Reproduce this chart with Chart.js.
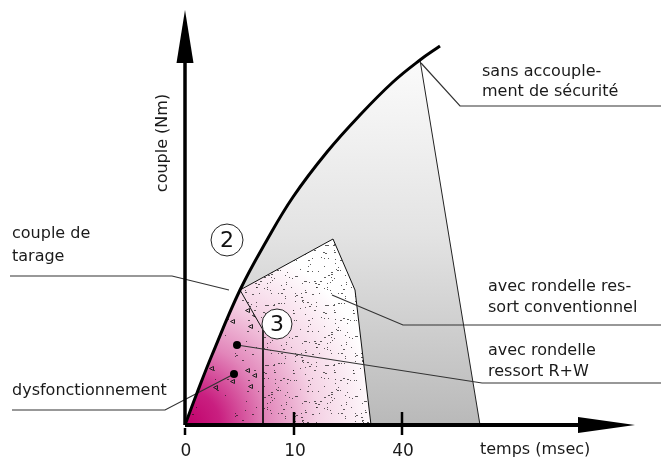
<!DOCTYPE html>
<html>
<head>
<meta charset="utf-8">
<script src="https://cdn.jsdelivr.net/npm/chart.js@4"></script>
<style>
  body { margin: 0; background: #fff; }
  #wrap { width: 661px; height: 461px; }
</style>
</head>
<body>
<div id="wrap"><canvas id="diagram" width="661" height="461"></canvas></div>
<script>
// couple (Nm) vs temps, schematic units (origin at 0,0)
const curveX = [0, 1.2, 2.7, 5.5, 8.2, 10.8, 14.2, 17.5, 20.8, 23.5, 25.5];
const curveY = [0, 3.2, 7.0, 13.5, 18.5, 22.8, 27.3, 31.0, 34.3, 36.5, 37.9];
const tarageIdx = 3;     // "couple de tarage" point on the curve
const sansIdx = 9;       // where "sans accouplement" drops off

// "sans accouplement de sécurité" drop line end on the time axis
const sansEnd = [29.5, 0];
// conventional spring washer zone (after the tarage point)
const convX = [14.8, 17.0, 18.6, 7.8];
const convY = [18.6, 13.5, 0, 0];
// R+W zone divider
const rwX = [7.8, 7.8];
const rwY = [9.5, 0];
// marked points (R+W, dysfonctionnement)
const markX = [5.2, 4.9];
const markY = [8.0, 5.1];

const tickPos = [0, 10.9, 21.7];
const tickLabels = ['0', '10', '40'];

const pt = (x, y) => ({x, y});
const curve = curveX.map((x, i) => pt(x, curveY[i]));
const tarage = curve[tarageIdx];
const sansPt = curve[sansIdx];

// textures
function stipple(count, tris) {
  const c = document.createElement('canvas');
  c.width = c.height = 60;
  const g = c.getContext('2d');
  let s = 12345;
  const next = () => (s = (s * 16807) % 2147483647) / 2147483647;
  g.fillStyle = 'rgba(25,25,25,0.7)';
  for (let i = 0; i < count; i++) {
    const px = Math.floor(next() * 60), py = Math.floor(next() * 60);
    g.fillRect(px, py, next() < 0.25 ? 2 : 1, 1);
  }
  g.strokeStyle = '#222';
  g.lineWidth = 1;
  for (let i = 0; i < tris; i++) {
    const px = Math.floor(next() * 54) + 0.5, py = Math.floor(next() * 54) + 3.5;
    g.beginPath();
    g.moveTo(px + 4, py - 2); g.lineTo(px, py); g.lineTo(px + 4, py + 2); g.closePath();
    g.stroke();
  }
  return g.createPattern(c, 'repeat');
}
const dotPattern = stipple(105, 0);
const triPattern = stipple(20, 6);

function grayFill(ctx) {
  const ch = ctx.chart;
  if (!ch.chartArea) return '#ddd';
  const y = ch.scales.y;
  const g = ch.ctx.createLinearGradient(0, y.getPixelForValue(38), 0, y.getPixelForValue(0));
  g.addColorStop(0, '#fdfdfd');
  g.addColorStop(0.5, '#e3e3e3');
  g.addColorStop(1, '#b9b9b9');
  return g;
}
function pinkFill(ctx) {
  const ch = ctx.chart;
  if (!ch.chartArea) return '#e8a0c8';
  const ox = ch.scales.x.getPixelForValue(0), oy = ch.scales.y.getPixelForValue(0);
  const g = ch.ctx.createRadialGradient(ox, oy, 0, ox, oy, 195);
  g.addColorStop(0, '#c0006a');
  g.addColorStop(0.18, '#c91f80');
  g.addColorStop(0.42, '#e286ba');
  g.addColorStop(0.68, '#f5d3e5');
  g.addColorStop(1, '#ffffff');
  return g;
}

function shape(data, bg, order) {
  return { data, showLine: true, pointRadius: 0, borderWidth: 0, borderColor: 'transparent',
           fill: 'shape', backgroundColor: bg, order, clip: false, tension: 0 };
}
function line(data, color, width, order) {
  return { data, showLine: true, pointRadius: 0, borderWidth: width, borderColor: color,
           fill: false, order, clip: false, tension: 0 };
}

const grayZone = curve.slice(0, sansIdx + 1).concat([pt(...sansEnd), pt(0, 0)]);
const pinkZone = curve.slice(0, tarageIdx + 1).concat(rwX.map((x, i) => pt(x, rwY[i])), [pt(0, 0)]);
const convZone = [tarage].concat(convX.map((x, i) => pt(x, convY[i])), rwX.map((x, i) => pt(x, rwY[i])).reverse(), [tarage]);

const datasets = [
  shape(grayZone, grayFill, 20),
  shape(pinkZone, pinkFill, 19),
  shape(convZone, pinkFill, 19),
  shape(convZone, dotPattern, 18),
  shape(pinkZone, triPattern, 18),
  line([tarage].concat(convX.map((x, i) => pt(x, convY[i]))), '#111', 1, 10),
  line([tarage].concat(rwX.map((x, i) => pt(x, rwY[i]))), '#111', 1, 10),
  line([sansPt, pt(...sansEnd)], '#222', 1, 10),
  // leader lines
  line([pt(23.6, 36.2), pt(27.5, 31.9), pt(47.6, 31.9)], '#333', 1.2, 8),
  line([pt(14.7, 13.0), pt(21.8, 10.0), pt(47.6, 10.0)], '#333', 1.2, 8),
  line([pt(markX[0], markY[0]), pt(29.7, 4.2), pt(47.6, 4.2)], '#333', 1.2, 8),
  line([pt(-17.5, 14.9), pt(-1.3, 14.9), pt(4.4, 13.5)], '#333', 1.2, 8),
  line([pt(-17.3, 1.5), pt(-2.0, 1.5), pt(markX[1], markY[1])], '#333', 1.2, 8),
  // torque curve
  { data: curve, showLine: true, pointRadius: 0, borderWidth: 3, borderColor: '#000', fill: false,
    tension: 0.4, order: 3, clip: false },
  // axes with arrowheads
  line([pt(0, 0), pt(0, 37)], '#000', 3.5, 2),
  line([pt(0, 0), pt(40, 0)], '#000', 4, 2),
  shape([pt(0, 41.5), pt(-0.85, 36.2), pt(0.85, 36.2), pt(0, 41.5)], '#000', 2),
  shape([pt(45, 0), pt(39.3, 0.8), pt(39.3, -0.8), pt(45, 0)], '#000', 2),
  // ticks
  line([pt(tickPos[0], -0.3), pt(tickPos[0], -1.0)], '#000', 2.5, 2),
  line([pt(tickPos[1], 1.3), pt(tickPos[1], -1.0)], '#000', 2.5, 2),
  line([pt(tickPos[2], 1.3), pt(tickPos[2], -1.0)], '#000', 2.5, 2),
  // marked points
  { data: markX.map((x, i) => pt(x, markY[i])), showLine: false, pointRadius: 4,
    pointBackgroundColor: '#000', pointBorderWidth: 0, order: 0, clip: false }
];

const notes = [
  ['sans accouple-', 29.7, 35.3], ['ment de sécurité', 29.7, 33.3],
  ['avec rondelle res-', 30.3, 13.8], ['sort conventionnel', 30.3, 11.7],
  ['avec rondelle', 30.3, 7.4], ['ressort R+W', 30.3, 5.3],
  ['couple de', -17.3, 19.1], ['tarage', -17.3, 16.8],
  ['dysfonctionnement', -17.3, 3.4], ['temps (msec)', 29.5, -2.5]
];
const circled = [['2', 4.2, 18.5, 16], ['3', 9.2, 10.1, 15]];

const annotate = {
  id: 'annotate',
  afterDatasetsDraw(chart) {
    const {ctx, scales: {x, y}} = chart;
    ctx.save();
    ctx.fillStyle = '#1a1a1a';
    ctx.font = '16px "DejaVu Sans"';
    ctx.textBaseline = 'middle';
    ctx.textAlign = 'left';
    notes.forEach(([t, nx, ny]) => ctx.fillText(t, x.getPixelForValue(nx), y.getPixelForValue(ny)));
    ctx.textAlign = 'center';
    ctx.font = '17px "DejaVu Sans"';
    tickPos.forEach((v, i) => ctx.fillText(tickLabels[i], x.getPixelForValue(v) + 1, y.getPixelForValue(-2.7)));
    // y axis title
    ctx.font = '16px "DejaVu Sans"';
    ctx.translate(x.getPixelForValue(-2.2), y.getPixelForValue(28.2));
    ctx.rotate(-Math.PI / 2);
    ctx.fillText('couple (Nm)', 0, 0);
    ctx.setTransform(1, 0, 0, 1, 0, 0);
    circled.forEach(([t, cx, cy, r]) => {
      const px = x.getPixelForValue(cx), py = y.getPixelForValue(cy);
      ctx.beginPath();
      ctx.arc(px, py, r, 0, Math.PI * 2);
      ctx.fillStyle = '#fff';
      ctx.fill();
      ctx.lineWidth = 1;
      ctx.strokeStyle = '#222';
      ctx.stroke();
      ctx.fillStyle = '#111';
      ctx.font = '22px "DejaVu Sans"';
      ctx.fillText(t, px, py + 1);
    });
    ctx.restore();
  }
};

new Chart(document.getElementById('diagram').getContext('2d'), {
  type: 'scatter',
  data: { datasets },
  options: {
    responsive: false,
    animation: false,
    layout: { padding: { left: 165, right: 16, top: 5, bottom: 21 } },
    scales: {
      x: { type: 'linear', min: -2, max: 46, display: false },
      y: { type: 'linear', min: -1.5, max: 42, display: false }
    },
    plugins: { legend: { display: false }, tooltip: { enabled: false } }
  },
  plugins: [annotate]
});
</script>
</body>
</html>
